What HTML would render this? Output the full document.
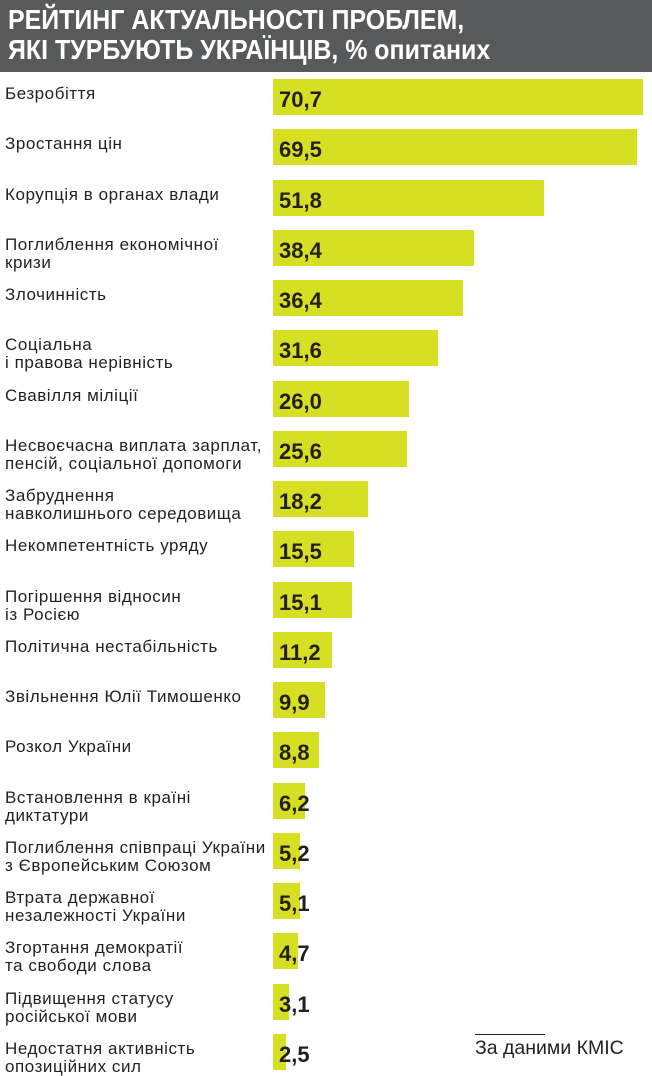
<!DOCTYPE html>
<html><head><meta charset="utf-8"><style>
body{margin:0;width:652px;height:1074px;background:#fff;position:relative;overflow:hidden;font-family:"Liberation Sans",sans-serif}
#hdr{position:absolute;left:0;top:0;width:652px;height:72px;background:#58595b}
#hdr div{position:absolute;left:8px;color:#fff;font-weight:bold;font-size:28px;line-height:30px;transform:scaleX(0.89);transform-origin:0 0;white-space:nowrap}
.lab{position:absolute;left:5px;font-size:17px;line-height:18px;color:#231f20;letter-spacing:0.55px;white-space:nowrap}
.bar{position:absolute;left:273px;height:36px;background:#d7df23}
.val{position:absolute;left:279px;font-size:22px;font-weight:bold;color:#231f20;line-height:36px}
#src{position:absolute;left:475px;top:1034px;font-size:19.5px;color:#231f20;line-height:22px;white-space:nowrap}
</style></head><body>
<div id="hdr"><div style="top:5px">РЕЙТИНГ АКТУАЛЬНОСТІ ПРОБЛЕМ,</div><div style="top:35px">ЯКІ ТУРБУЮТЬ УКРАЇНЦІВ, % опитаних</div></div>
<div id="chart"></div>
<div id="src"><div style="width:70px;border-top:1px solid #231f20;margin-bottom:2px"></div>За даними КМІС</div>
<script>
const categories=["Безробіття","Зростання цін","Корупція в органах влади","Поглиблення економічної<br>кризи","Злочинність","Соціальна<br>і правова нерівність","Свавілля міліції","Несвоєчасна виплата зарплат,<br>пенсій, соціальної допомоги","Забруднення<br>навколишнього середовища","Некомпетентність уряду","Погіршення відносин<br>із Росією","Політична нестабільність","Звільнення Юлії Тимошенко","Розкол України","Встановлення в країні<br>диктатури","Поглиблення співпраці України<br>з Європейським Союзом","Втрата державної<br>незалежності України","Згортання демократії<br>та свободи слова","Підвищення статусу<br>російської мови","Недостатня активність<br>опозиційних сил"];
const values=[70.7,69.5,51.8,38.4,36.4,31.6,26.0,25.6,18.2,15.5,15.1,11.2,9.9,8.8,6.2,5.2,5.1,4.7,3.1,2.5];
const x=v=>v*370/70.7;
const y=i=>79+i*50.26;
const c=document.getElementById('chart');
values.forEach((v,i)=>{
 const b=document.createElement('div');b.className='bar';
 
 
 b.style.top=y(i)+'px';b.style.width=x(v)+'px';c.appendChild(b);
 const t=document.createElement('div');t.className='val';
 
 
 t.style.top=(y(i)+3)+'px';t.textContent=v.toFixed(1).replace('.',',');c.appendChild(t);
 const l=document.createElement('div');l.className='lab';
 
 
 l.style.top=(y(i)+6)+'px';l.innerHTML=categories[i];c.appendChild(l);
});
</script>
</body></html>
